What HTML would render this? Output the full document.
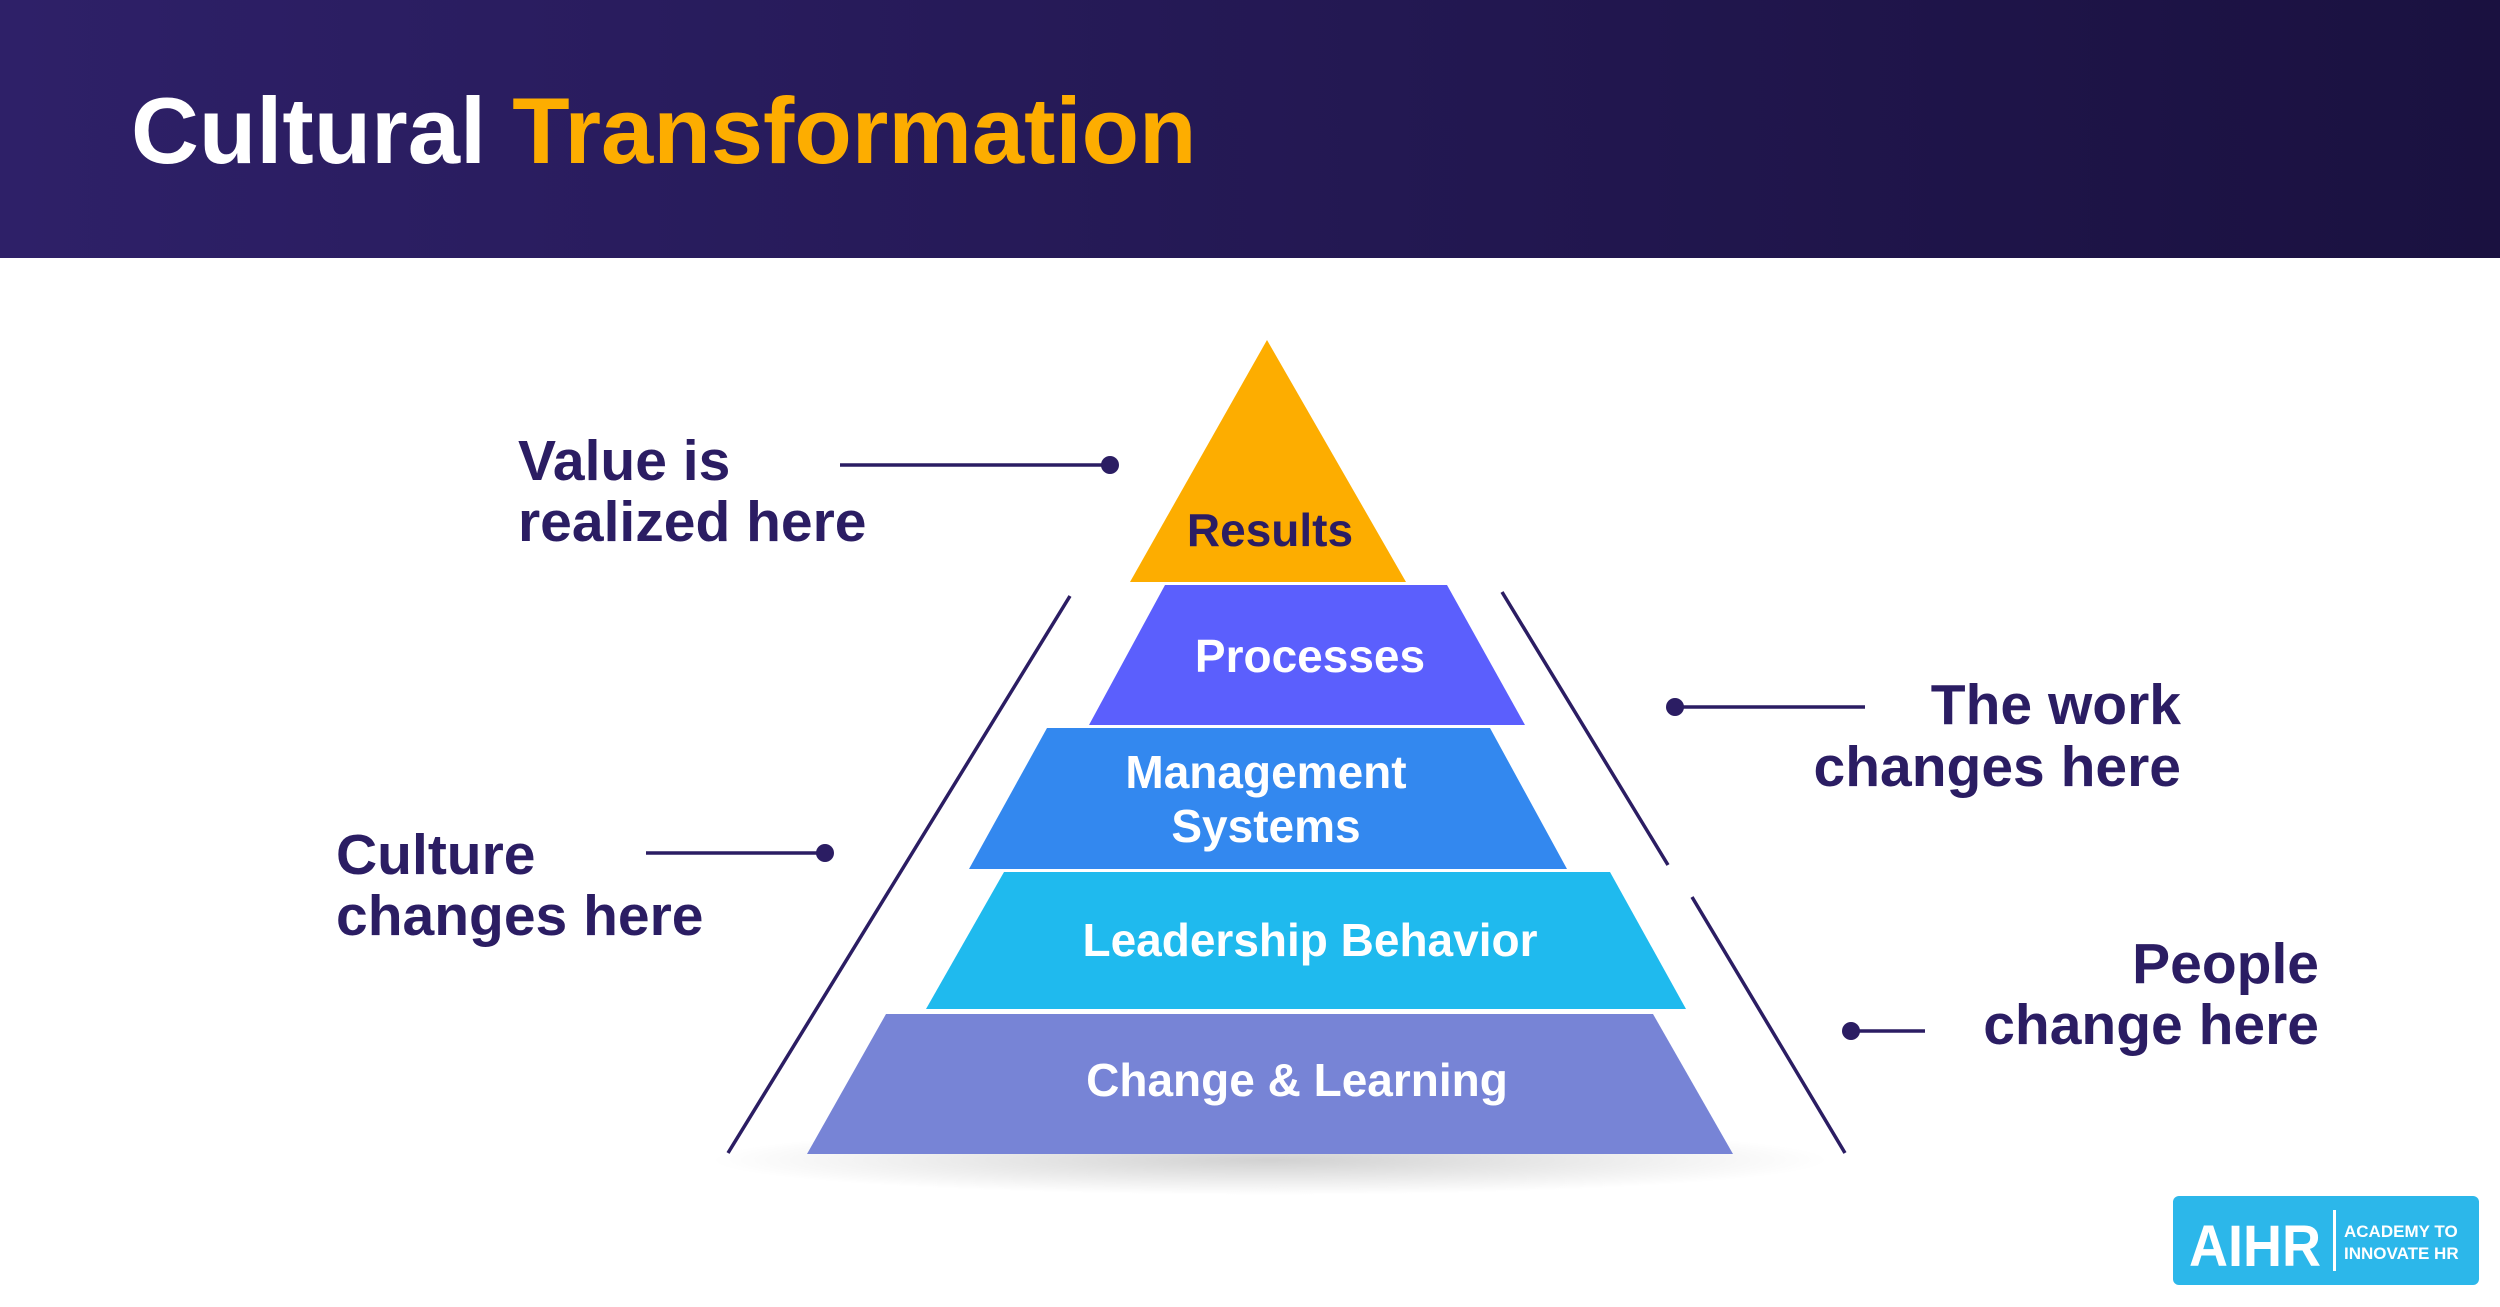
<!DOCTYPE html>
<html><head><meta charset="utf-8"><style>
html,body{margin:0;padding:0;background:#fff;overflow:hidden}
svg{display:block}
text{font-family:"Liberation Sans",sans-serif;font-weight:bold}
</style></head><body>
<svg width="2500" height="1307" viewBox="0 0 2500 1307" xmlns="http://www.w3.org/2000/svg">
<defs>
<linearGradient id="hd" x1="0" x2="1" y1="0" y2="0"><stop offset="0" stop-color="#2e2068"/><stop offset="1" stop-color="#1a1140"/></linearGradient>
<radialGradient id="sh" cx="0.5" cy="0.5" r="0.5"><stop offset="0" stop-color="#000" stop-opacity="0.18"/><stop offset="1" stop-color="#000" stop-opacity="0"/></radialGradient>
</defs>
<rect x="0" y="0" width="2500" height="258" fill="url(#hd)"/>
<text x="131" y="163" font-size="94" fill="#fff">Cultural <tspan fill="#fdad00">Transformation</tspan></text>

<ellipse cx="1270" cy="1160" rx="560" ry="35" fill="url(#sh)"/>
<polygon points="1267,340 1406,582 1130,582" fill="#fdad00"/>
<polygon points="1165,585 1447,585 1525,725 1089,725" fill="#5b5ffd"/>
<polygon points="1047,728 1490,728 1567,869 969,869" fill="#3388ef"/>
<polygon points="1004,872 1610,872 1686,1009 926,1009" fill="#1fbaee"/>
<polygon points="886,1014 1653,1014 1733,1154 807,1154" fill="#7784d6"/>

<g font-size="46" text-anchor="middle">
<text x="1270" y="546" fill="#2b1d63">Results</text>
<text x="1310" y="672" fill="#fff">Processes</text>
<text x="1266" y="788" fill="#fff">Management</text>
<text x="1266" y="842" fill="#fff">Systems</text>
<text x="1310" y="956" fill="#fff">Leadership Behavior</text>
<text x="1297" y="1096" fill="#fff">Change &amp; Learning</text>
</g>

<g stroke="#2b1d63" stroke-width="3.5" fill="none">
<line x1="1070" y1="596" x2="728" y2="1153"/>
<line x1="1502" y1="592" x2="1668" y2="865"/>
<line x1="1692" y1="897" x2="1845" y2="1153"/>
<line x1="840" y1="465" x2="1110" y2="465"/>
<line x1="646" y1="853" x2="825" y2="853"/>
<line x1="1675" y1="707" x2="1865" y2="707"/>
<line x1="1851" y1="1031" x2="1925" y2="1031"/>
</g>
<g fill="#2b1d63">
<circle cx="1110" cy="465" r="9"/>
<circle cx="825" cy="853" r="9"/>
<circle cx="1675" cy="707" r="9"/>
<circle cx="1851" cy="1031" r="9"/>
</g>

<g font-size="57" fill="#2b1d63">
<text x="518" y="480">Value is</text>
<text x="518" y="541">realized here</text>
<text x="336" y="874">Culture</text>
<text x="336" y="935">changes here</text>
<text x="2181" y="724" text-anchor="end">The work</text>
<text x="2181" y="786" text-anchor="end">changes here</text>
<text x="2319" y="983" text-anchor="end">People</text>
<text x="2319" y="1044" text-anchor="end">change here</text>
</g>

<rect x="2173" y="1196" width="306" height="89" rx="6" fill="#2cb7ea"/>
<text x="2189" y="1266" font-size="58" fill="#fff" textLength="132" lengthAdjust="spacingAndGlyphs">AIHR</text>
<rect x="2333" y="1210" width="3" height="61" fill="#fff"/>
<text x="2344" y="1237" font-size="17" fill="#fff">ACADEMY TO</text>
<text x="2344" y="1259" font-size="17" fill="#fff">INNOVATE HR</text>
</svg>
</body></html>
